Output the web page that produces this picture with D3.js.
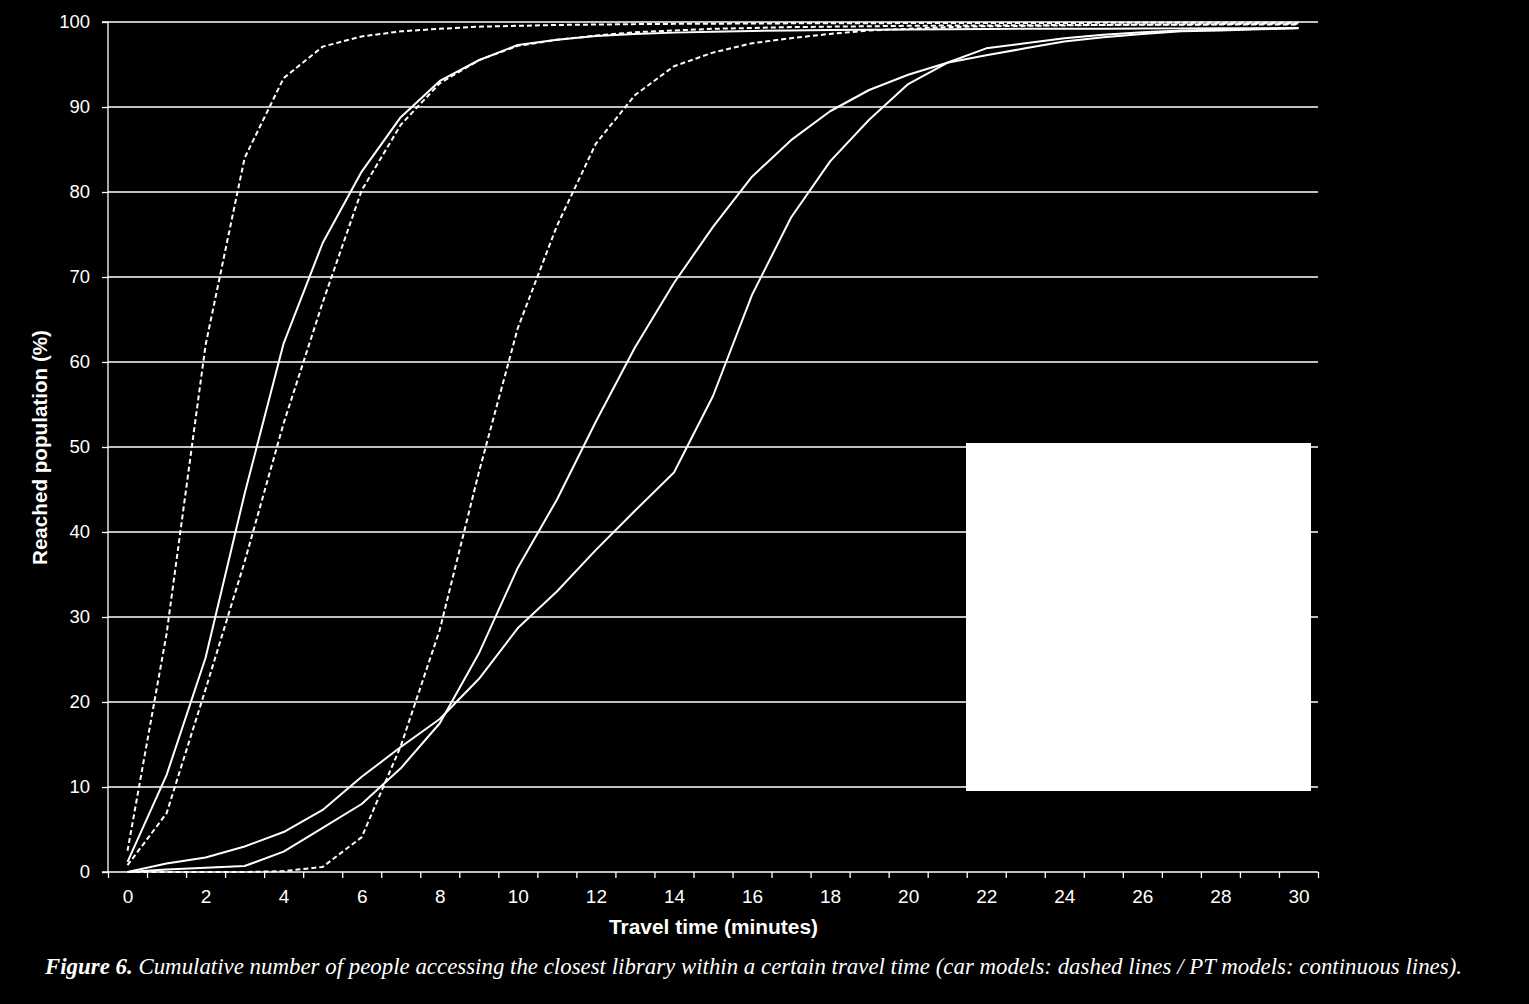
<!DOCTYPE html>
<html>
<head>
<meta charset="utf-8">
<script src="https://cdn.jsdelivr.net/npm/d3@7"></script>
<style>
  html, body { margin: 0; padding: 0; background: #000; }
  svg { display: block; }
</style>
</head>
<body>
<script>
// ---- data ----
const minutes = d3.range(0, 31);
const xTickLabels = [0, 2, 4, 6, 8, 10, 12, 14, 16, 18, 20, 22, 24, 26, 28, 30];
const yTickLabels = [0, 10, 20, 30, 40, 50, 60, 70, 80, 90, 100];

// car models (dashed)
const carA = [2.5, 28, 62, 84, 93.4, 97.1, 98.3, 98.9, 99.2, 99.45, 99.55, 99.65, 99.7, 99.75, 99.78, 99.8, 99.82, 99.84, 99.85, 99.86, 99.87, 99.88, 99.88, 99.89, 99.89, 99.9, 99.9, 99.9, 99.9, 99.9, 99.9];
const carB = [0.8, 6.9, 21.5, 36.5, 52.8, 67, 80.2, 87.9, 92.8, 95.5, 97.2, 97.9, 98.4, 98.8, 99.0, 99.2, 99.3, 99.4, 99.45, 99.5, 99.55, 99.58, 99.6, 99.62, 99.64, 99.66, 99.67, 99.68, 99.7, 99.7, 99.7];
const carC = [0, 0, 0, 0, 0.1, 0.6, 4.1, 14.8, 28.5, 47, 64, 76, 85.7, 91.4, 94.8, 96.4, 97.5, 98.1, 98.6, 99.0, 99.2, 99.4, 99.5, 99.55, 99.6, 99.65, 99.7, 99.72, 99.75, 99.78, 99.8];
// PT models (continuous)
const ptA = [1.2, 11.4, 25.2, 44.5, 62.2, 74, 82.4, 88.8, 93.06, 95.5, 97.3, 97.9, 98.35, 98.6, 98.75, 98.85, 98.95, 99.0, 99.05, 99.1, 99.12, 99.15, 99.17, 99.2, 99.2, 99.22, 99.24, 99.25, 99.26, 99.27, 99.28];
const ptB = [0, 1.0, 1.7, 3.0, 4.7, 7.3, 11.2, 14.7, 18.0, 22.7, 28.7, 33, 37.9, 42.5, 47, 56, 67.9, 77, 83.6, 88.5, 92.7, 95.2, 96.9, 97.5, 98.1, 98.5, 98.8, 99.0, 99.1, 99.2, 99.3];
const ptC = [0, 0.3, 0.5, 0.7, 2.4, 5.2, 8.0, 12.2, 17.5, 25.7, 35.8, 43.8, 53.0, 61.7, 69.3, 75.9, 81.8, 86.1, 89.5, 92.0, 93.8, 95.2, 96.1, 96.9, 97.7, 98.2, 98.6, 98.9, 99.0, 99.15, 99.25];

const seriesList = [
  { name: "car A", values: carA, dashed: true },
  { name: "car B", values: carB, dashed: true },
  { name: "car C", values: carC, dashed: true },
  { name: "PT A", values: ptA, dashed: false },
  { name: "PT B", values: ptB, dashed: false },
  { name: "PT C", values: ptC, dashed: false }
];

const xTitle = "Travel time (minutes)";
const yTitle = "Reached population (%)";
const captionBold = "Figure  6.";
const captionText = " Cumulative number of people accessing the closest library within a certain travel time (car models: dashed lines / PT models: continuous lines).";

// ---- layout ----
const W = 1529, H = 1004;
const plot = { left: 108, right: 1318, top: 22, bottom: 872 };
const sans = "'Liberation Sans', Arial, sans-serif";

const svg = d3.select("body").append("svg")
  .attr("width", W).attr("height", H)
  .style("background", "#000");

svg.append("rect").attr("width", W).attr("height", H).attr("fill", "#000");

const x = d3.scaleLinear().domain([-0.5, 30.5]).range([plot.left, plot.right]);
const y = d3.scaleLinear().domain([0, 100]).range([plot.bottom, plot.top]);

// gridlines
svg.append("g")
  .selectAll("line")
  .data(yTickLabels.filter(v => v > 0))
  .join("line")
  .attr("x1", plot.left).attr("x2", plot.right)
  .attr("y1", d => y(d)).attr("y2", d => y(d))
  .attr("stroke", "#fff").attr("stroke-width", 1.3);

// y axis
const yAxis = svg.append("g")
  .attr("transform", `translate(${plot.left},0)`)
  .call(d3.axisLeft(y).tickValues(yTickLabels).tickSize(6).tickPadding(12).tickFormat(d3.format("d")));
yAxis.select(".domain").attr("stroke", "#fff").attr("stroke-width", 1.3).attr("d", `M-6,${plot.top}H0V${plot.bottom}H-6`);
yAxis.selectAll(".tick line").attr("stroke", "#fff").attr("stroke-width", 1.3);
yAxis.selectAll(".tick text")
  .attr("fill", "#fff")
  .style("font-family", sans)
  .style("font-size", "18.5px");

// x axis: tick marks at category boundaries
const xBounds = d3.range(-0.5, 31, 1);
const xAxisMarks = svg.append("g")
  .attr("transform", `translate(0,${plot.bottom})`)
  .call(d3.axisBottom(x).tickValues(xBounds).tickSize(6).tickFormat(""));
xAxisMarks.select(".domain").attr("stroke", "#fff").attr("stroke-width", 1.3).attr("d", `M${plot.left},0H${plot.right}`);
xAxisMarks.selectAll(".tick line").attr("stroke", "#fff").attr("stroke-width", 1.3);

// x axis labels at category centers
const xAxisLabels = svg.append("g")
  .attr("transform", `translate(0,${plot.bottom})`)
  .call(d3.axisBottom(x).tickValues(xTickLabels).tickSize(0).tickPadding(18).tickFormat(d3.format("d")));
xAxisLabels.select(".domain").remove();
xAxisLabels.selectAll(".tick text")
  .attr("fill", "#fff")
  .style("font-family", sans)
  .style("font-size", "19px");

// lines
const line = d3.line()
  .x((d, i) => x(minutes[i]))
  .y(d => y(d));

svg.append("g")
  .selectAll("path")
  .data(seriesList)
  .join("path")
  .attr("d", d => line(d.values))
  .attr("fill", "none")
  .attr("stroke", "#fff")
  .attr("stroke-width", 2)
  .attr("stroke-linejoin", "round")
  .attr("stroke-dasharray", d => d.dashed ? "5,3" : null);

// white box (legend area)
svg.append("rect")
  .attr("x", 966).attr("y", 443)
  .attr("width", 345).attr("height", 348)
  .attr("fill", "#fff");

// axis titles
svg.append("text")
  .attr("x", 609).attr("y", 934)
  .attr("fill", "#fff")
  .attr("textLength", 209)
  .attr("lengthAdjust", "spacingAndGlyphs")
  .style("font-family", sans)
  .style("font-size", "20px")
  .style("font-weight", "bold")
  .text(xTitle);

svg.append("text")
  .attr("transform", `translate(47,565) rotate(-90)`)
  .attr("fill", "#fff")
  .attr("textLength", 235)
  .attr("lengthAdjust", "spacingAndGlyphs")
  .style("font-family", sans)
  .style("font-size", "20px")
  .style("font-weight", "bold")
  .text(yTitle);

// caption
const cap = svg.append("text")
  .attr("x", 45).attr("y", 974)
  .attr("fill", "#fff")
  .attr("textLength", 1417)
  .attr("lengthAdjust", "spacingAndGlyphs")
  .style("font-family", "'Liberation Serif', 'DejaVu Serif', serif")
  .style("font-style", "italic")
  .style("font-size", "23px");
cap.append("tspan").style("font-weight", "bold").text(captionBold);
cap.append("tspan").text(captionText);
</script>
</body>
</html>
